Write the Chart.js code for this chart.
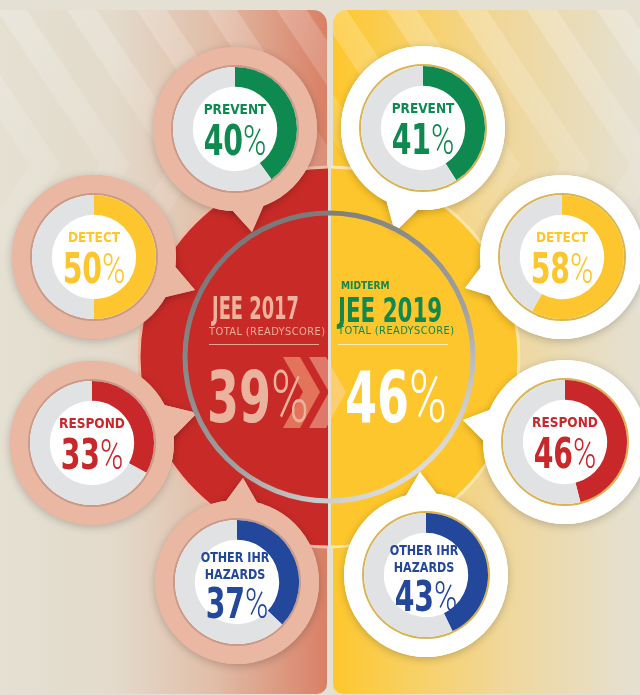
<!DOCTYPE html>
<html>
<head>
<meta charset="utf-8">
<script src="https://cdn.jsdelivr.net/npm/chart.js@4"></script>
<style>
  body { margin:0; width:640px; height:695px; overflow:hidden; background:#e4e0d3; position:relative;
         font-family:'Liberation Sans Narrow','DejaVu Sans Condensed',sans-serif; }
  #bg { position:absolute; left:0; top:0; }
  .donut { position:absolute; }
  .t { position:absolute; white-space:nowrap; line-height:1; font-weight:700; }
  .pc { font-family:Roboto,sans-serif; font-weight:300; }
</style>
</head>
<body>
<canvas id="bg" width="640" height="695"></canvas>
<script>
const categories = ["PREVENT", "DETECT", "RESPOND", "OTHER IHR HAZARDS"];
const scores2017 = [40, 50, 33, 37];
const scores2019 = [41, 58, 46, 43];
const totals = [39, 46];
const years = ["JEE 2017", "JEE 2019"];
const catColors = ["#0e8a50", "#fdc62e", "#c9282b", "#22479b"];
const restColor = "#e1e2e4";

// bubble centre + pointer tip
const leftPos = [[235, 129, 252, 232], [94, 257, 195, 290], [92, 443, 197, 413], [237, 582, 243, 478]];
const rightPos = [[423, 128, 395, 232], [562, 257, 465, 288], [565, 442, 463, 420], [426, 575, 420, 472]];
const BX = 329, BY = 357;

const ctx = document.getElementById("bg").getContext("2d");

function chevrons(x0, x1, apexY, period, slope, width, a) {
  const g = ctx.createLinearGradient(0, 10, 0, 330);
  g.addColorStop(0, "rgba(255,255,255," + a + ")");
  g.addColorStop(1, "rgba(255,255,255,0)");
  ctx.fillStyle = g;
  for (let ax = x0; ax < x1; ax += period) {
    const up = (apexY - 10) / slope, dn = (700 - apexY) / slope;
    ctx.beginPath();
    ctx.moveTo(ax - up, 10);
    ctx.lineTo(ax - up + width, 10);
    ctx.lineTo(ax + width, apexY);
    ctx.lineTo(ax - dn + width, 700);
    ctx.lineTo(ax - dn, 700);
    ctx.lineTo(ax, apexY);
    ctx.closePath();
    ctx.fill();
  }
}

// left panel
ctx.save();
ctx.beginPath();
ctx.roundRect(0, 10, 327, 684, [0, 14, 10, 0]);
let g = ctx.createLinearGradient(0, 0, 327, 0);
g.addColorStop(0, "#e4e0d2");
g.addColorStop(0.35, "#e3dacb");
g.addColorStop(0.65, "#e1bea8");
g.addColorStop(1, "#d98066");
ctx.fillStyle = g;
ctx.fill();
ctx.clip();
chevrons(-40, 460, 165, 70, 1.5, 30, 0.2);
ctx.restore();

// right panel
ctx.save();
ctx.beginPath();
ctx.roundRect(333, 10, 307, 684, [14, 0, 0, 10]);
g = ctx.createLinearGradient(333, 0, 640, 0);
g.addColorStop(0, "#fec72c");
g.addColorStop(0.25, "#f8d062");
g.addColorStop(0.55, "#f0d79a");
g.addColorStop(1, "#e4e0d2");
ctx.fillStyle = g;
ctx.fill();
ctx.clip();
chevrons(350, 820, 165, 70, 1.5, 30, 0.22);
ctx.restore();

// big circle halves
function half(x0, x1, fill, line) {
  ctx.save();
  ctx.beginPath();
  ctx.rect(x0, 0, x1 - x0, 695);
  ctx.clip();
  ctx.beginPath();
  ctx.arc(BX, BY, 190, 0, Math.PI * 2);
  ctx.fillStyle = fill;
  ctx.fill();
  ctx.lineWidth = 3;
  ctx.strokeStyle = line;
  ctx.stroke();
  ctx.restore();
}
half(0, 328, "#c82b27", "#efbca8");
half(331, 640, "#fdc62c", "#fbe6ad");

// speech bubbles
function bubble(p, fill, rim) {
  const [cx, cy, tx, ty] = p;
  const a = Math.atan2(ty - cy, tx - cx);
  const shape = () => {
    ctx.beginPath();
    ctx.arc(cx, cy, 82, 0, Math.PI * 2);
    ctx.fill();
    ctx.beginPath();
    ctx.moveTo(cx + 74 * Math.cos(a - 0.3), cy + 74 * Math.sin(a - 0.3));
    ctx.lineTo(tx, ty);
    ctx.lineTo(cx + 74 * Math.cos(a + 0.3), cy + 74 * Math.sin(a + 0.3));
    ctx.closePath();
    ctx.fill();
  };
  ctx.save();
  ctx.fillStyle = fill;
  ctx.shadowColor = "rgba(0,0,0,0.22)";
  ctx.shadowBlur = 8;
  ctx.shadowOffsetY = 2;
  shape();
  ctx.restore();
  ctx.fillStyle = fill;
  shape();
  ctx.beginPath();
  ctx.arc(cx, cy, 64, 0, Math.PI * 2);
  ctx.fillStyle = rim;
  ctx.fill();
  ctx.beginPath();
  ctx.arc(cx, cy, 62, 0, Math.PI * 2);
  ctx.fillStyle = "#ffffff";
  ctx.fill();
}
leftPos.forEach(p => bubble(p, "#e9b7a2", "#c99a88"));
rightPos.forEach(p => bubble(p, "#ffffff", "#d9b451"));

// metallic ring
g = ctx.createLinearGradient(BX - 100, BY - 144, BX + 100, BY + 144);
g.addColorStop(0, "#727272");
g.addColorStop(0.6, "#a0a0a0");
g.addColorStop(1, "#ececec");
ctx.beginPath();
ctx.arc(BX, BY, 144, 0, Math.PI * 2);
ctx.lineWidth = 5;
ctx.strokeStyle = g;
ctx.stroke();

// rules under headings
ctx.lineWidth = 1;
ctx.strokeStyle = "#e8a290";
ctx.beginPath(); ctx.moveTo(209, 344.5); ctx.lineTo(319, 344.5); ctx.stroke();
ctx.strokeStyle = "#fcebb5";
ctx.beginPath(); ctx.moveTo(338, 344.5); ctx.lineTo(448, 344.5); ctx.stroke();

// centre chevrons
function chev(x, fill) {
  ctx.beginPath();
  ctx.moveTo(x, 357); ctx.lineTo(x + 17, 357); ctx.lineTo(x + 37, 392);
  ctx.lineTo(x + 17, 428); ctx.lineTo(x, 428); ctx.lineTo(x + 20, 392);
  ctx.closePath();
  ctx.fillStyle = fill;
  ctx.fill();
}
chev(283, "rgba(236,140,110,0.75)");
chev(309, "rgba(250,215,190,0.45)");

// text helper
function addText(html, x, y, css, align, sx) {
  const d = document.createElement("div");
  d.className = "t";
  d.innerHTML = html;
  d.style.cssText = css;
  d.style.left = x + "px";
  d.style.top = y + "px";
  const s = sx || 1;
  if (align === "left") {
    d.style.transformOrigin = "left center";
    d.style.transform = "translateY(-50%) scaleX(" + s + ")";
  } else {
    d.style.transformOrigin = "center center";
    d.style.transform = "translate(-50%,-50%) scaleX(" + s + ")";
  }
  document.body.appendChild(d);
}

// donuts
function donut(p, value, i) {
  const [cx, cy] = p;
  const cv = document.createElement("canvas");
  cv.width = 124; cv.height = 124;
  cv.className = "donut";
  cv.style.left = (cx - 62) + "px";
  cv.style.top = (cy - 62) + "px";
  document.body.appendChild(cv);
  new Chart(cv, {
    type: "doughnut",
    data: {
      labels: [categories[i], ""],
      datasets: [{
        data: [value, 100 - value],
        backgroundColor: [catColors[i], restColor],
        borderWidth: 0,
      }],
    },
    options: {
      responsive: false,
      animation: false,
      events: [],
      cutout: "68%",
      layout: { padding: 0 },
      plugins: { legend: { display: false }, tooltip: { enabled: false } },
    },
  });
  const col = catColors[i];
  const lab = "color:" + col + ";font-size:13.5px;";
  const num = "color:" + col + ";font-size:42px;";
  const numHtml = value + '<span class="pc">%</span>';
  if (i === 3) {
    addText("OTHER IHR", cx - 2, cy - 24, lab, "center", 0.92);
    addText("HAZARDS", cx - 2, cy - 7, lab, "center", 0.92);
    addText(numHtml, cx, cy + 22, num, "center", 0.75);
  } else {
    addText(categories[i], cx, cy - 19, lab);
    addText(numHtml, cx, cy + 12, num, "center", 0.75);
  }
}
scores2017.forEach((v, i) => donut(leftPos[i], v, i));
scores2019.forEach((v, i) => donut(rightPos[i], v, i));

// centre texts
addText(years[0], 212, 309, "color:#ebb39d;font-size:31.5px;", "left", 0.63);
addText("TOTAL (READYSCORE)", 209, 331, "color:#e9ad98;font-size:11px;font-weight:400;letter-spacing:0.4px;", "left");
addText(totals[0] + '<span class="pc">%</span>', 207, 397, "color:#ebb39d;font-size:72px;", "left", 0.71);

addText("MIDTERM", 341, 285, "color:#12884c;font-size:11px;", "left", 0.92);
addText(years[1], 338, 310, "color:#12884c;font-size:34px;", "left", 0.7);
addText("TOTAL (READYSCORE)", 338, 330, "color:#12884c;font-size:11px;font-weight:400;letter-spacing:0.4px;", "left");
addText(totals[1] + '<span class="pc">%</span>', 345, 397, "color:#ffffff;font-size:72px;", "left", 0.71);
</script>
</body>
</html>
